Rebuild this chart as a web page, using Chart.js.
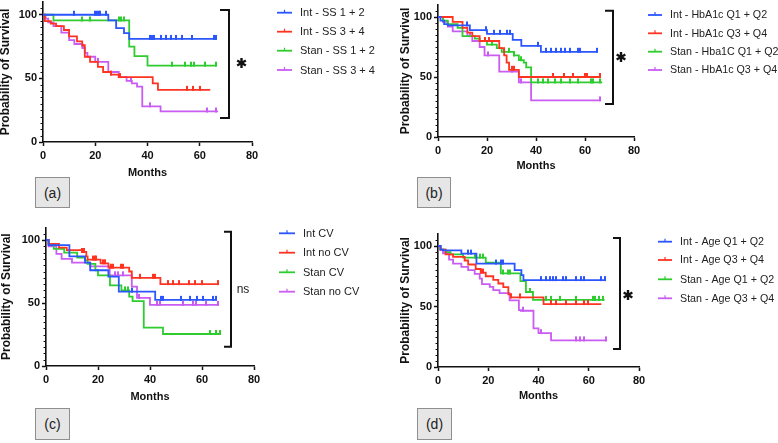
<!DOCTYPE html>
<html>
<head>
<meta charset="utf-8">
<script src="https://cdn.jsdelivr.net/npm/chart.js@4.4.1/dist/chart.umd.min.js"></script>
<style>
  html, body { margin: 0; padding: 0; background: #fff; width: 778px; height: 443px; overflow: hidden; position: relative; }
  canvas { position: absolute; }
  .tag {
    position: absolute; box-sizing: border-box; background: #e6e6e6; border: 1px solid #8f8f8f;
    font: 14px "Liberation Sans", Arial, sans-serif; color: #222;
    display: flex; align-items: center; justify-content: center;
  }
</style>
</head>
<body>
<script>
// axis ticks
const xTicks = [0, 20, 40, 60, 80];
const yTicks = [0, 50, 100];

// (a) symptom score
const aLabels = ["Int - SS 1 + 2", "Int - SS 3 + 4", "Stan - SS 1 + 2", "Stan - SS 3 + 4"];
const aIntSS12 = [[0, 100], [25, 95.5], [28, 89.5], [31, 85.6], [33, 81], [66.3, 81]];
const aIntSS12Cens = [12, 20, 20.7, 21.4, 22, 24, 41.1, 41.7, 42.3, 45, 47, 49, 51, 53.3, 57, 65.3, 66.3];
const aIntSS34 = [[0, 100], [0.7, 95], [3, 93], [5, 91], [8, 88], [10, 83], [13, 79], [15, 76], [16, 67], [18, 63], [21, 59], [23, 55], [26, 53], [29, 51], [42, 46], [44, 41], [64, 41]];
const aIntSS34Cens = [26, 29.5, 55, 57.4, 60];
const aStanSS12 = [[0, 100], [4, 95.5], [33, 75], [35, 67.5], [40, 60], [66.3, 60]];
const aStanSS12Cens = [15, 18, 29, 30, 31, 49.4, 54.5, 56.6, 57.7, 62, 66.3];
const aStanSS34 = [[0, 100], [1, 97], [2, 94], [4, 91], [7, 86], [10, 80], [12, 77], [15, 74], [16, 70], [17, 67], [20, 63], [25, 55], [29, 51], [32, 48], [34, 46], [36, 43.5], [38, 28], [45, 24], [67, 24]];
const aStanSS34Cens = [15.5, 21, 33.7, 41, 62.8, 66.3];

// (b) HbA1c
const bLabels = ["Int - HbA1c Q1 + Q2", "Int - HbA1c Q3 + Q4", "Stan - Hba1C Q1 + Q2", "Stan - HbA1c Q3 + Q4"];
const bIntHb12 = [[0, 100], [1, 97], [2.5, 94], [4, 93], [13, 89], [20, 86], [30.5, 81], [34, 76], [42, 71], [65, 71]];
const bIntHb12Cens = [12, 19.5, 23, 25.5, 28, 29.5, 41, 44, 46, 48, 50, 52, 54, 57, 58, 64.7];
const bIntHb34 = [[0, 100], [6, 96], [10, 91], [12, 87], [14, 84], [17, 80], [25, 74], [27, 68], [28, 62], [29, 56], [33, 50], [66, 50]];
const bIntHb34Cens = [19, 21, 30, 31, 47, 51.5, 55, 60, 61, 66];
const bStanHb12 = [[0, 100], [2, 97], [4, 94], [8, 91], [10, 84], [15, 82], [17, 80], [20, 77], [24, 74], [26, 71], [31, 68], [33, 64], [35, 62], [36, 58], [38, 45.5], [67, 45.5]];
const bStanHb12Cens = [22, 27, 29, 31, 34, 41, 43, 45, 47.7, 50.4, 53.8, 57, 62.6, 63.3, 66];
const bStanHb34 = [[0, 100], [2, 96], [4, 92], [6, 88], [12, 84], [14, 80], [17, 75], [19, 68], [25, 54.5], [33, 45.5], [38, 30.5], [66, 30.5]];
const bStanHb34Cens = [13, 20.5, 30, 34, 66];

// (c) cardiovascular
const cLabels = ["Int CV", "Int no CV", "Stan CV", "Stan no CV"];
const cIntCV = [[0, 100], [1, 96], [9, 87], [15, 82], [17, 76], [24, 71], [28, 59], [42, 52.5], [65, 52.5]];
const cIntCVCens = [33, 44.4, 45, 52, 55.3, 57.9, 60.4, 64.3, 65.3];
const cIntNoCV = [[0, 100], [1, 97], [5, 94], [8, 92], [14, 90.5], [15.5, 87], [16, 84.5], [21, 81.5], [24, 78], [32, 75], [33, 70], [44, 65], [66, 65]];
const cIntNoCVCens = [14, 14.7, 18, 18.8, 19.4, 21.8, 22.7, 25, 25.8, 29, 29.7, 36, 41.2, 41.8, 47, 49, 51, 55, 57.2, 60, 66];
const cStanCV = [[0, 100], [1, 97], [3, 93], [7, 90], [12, 86], [15, 84], [16, 81], [19, 76], [20, 72], [24.6, 64], [29, 60], [32, 55], [33.3, 51.5], [37.6, 30.4], [45, 25.4], [67, 25.4]];
const cStanCVCens = [30.5, 31.5, 63, 65.5, 67];
const cStanNoCV = [[0, 100], [1, 95], [4, 89], [6, 85], [10, 82], [17, 79], [24.5, 72], [33, 63], [35, 54], [40, 48.5], [66, 48.5]];
const cStanNoCVCens = [26.5, 27.5, 29.7, 35.8, 42.5, 43.7, 52.5, 56.6, 57.8, 61.7, 66];

// (d) age
const dLabels = ["Int - Age Q1 + Q2", "Int - Age Q3 + Q4", "Stan - Age Q1 + Q2", "Stan - Age Q3 + Q4"];
const dIntAge12 = [[0, 100], [1, 97], [2, 96.4], [9.3, 93.7], [15.3, 85.5], [30.5, 80], [33.2, 76], [34, 71.8], [66.3, 71.8]];
const dIntAge12Cens = [12, 13.3, 23.2, 25.2, 25.8, 41.1, 43.1, 44.4, 45.7, 47.1, 49.7, 51, 55, 57, 58.3, 65, 66.3];
const dIntAge34 = [[0, 100], [1, 97], [3, 93], [6, 91], [10.6, 88], [12, 84.7], [15, 81], [17, 78], [19, 75], [22, 72], [24, 69], [26, 66], [28, 60], [29, 57.5], [42, 52], [65, 52]];
const dIntAge34Cens = [17.2, 17.9, 29.2, 32.5, 45.1, 47.1, 51, 55, 58.3, 59.7];
const dStanAge12 = [[0, 100], [1, 97], [3, 95], [5, 93], [10, 90.4], [19, 86.3], [25, 77.3], [32.8, 71], [35, 62], [37.8, 55.5], [66.3, 55.5]];
const dStanAge12Cens = [14.6, 16.6, 17.9, 25.9, 27.8, 28.5, 36.5, 43.1, 45.1, 48.4, 55, 61.7, 62.3, 64, 65.6];
const dStanAge34 = [[0, 100], [1, 97], [2, 94], [4.4, 88.8], [6, 85.5], [9.3, 82.7], [12, 80], [14.6, 77], [16.6, 73], [17.5, 68.5], [20.6, 66.3], [22, 63.6], [24.5, 61], [28.5, 55], [32.2, 47], [33, 46.5], [38, 32], [40, 28], [45, 22], [67, 22]];
const dStanAge34Cens = [33.8, 40.8, 55, 56.4, 58.3, 67];

const BLUE = "#2a55ff", RED = "#ff3322", GREEN = "#2ecc2e", PURPLE = "#c95cf2";
const COLORS = [BLUE, RED, GREEN, PURPLE];
const FONT = "'Liberation Sans', Arial, sans-serif";

// value of a KM curve at time t
function survAt(steps, t) {
  let s = steps[0][1];
  for (const [x, y] of steps) if (x <= t) s = y;
  return s;
}

function tickMark(color) {
  const c = document.createElement("canvas");
  c.width = 2; c.height = 10;
  const g = c.getContext("2d");
  g.fillStyle = color;
  g.fillRect(0, 1, 2, 5);
  return c;
}

const decor = {
  id: "decor",
  afterDraw(chart, args, o) {
    const ctx = chart.ctx, y = chart.scales.y, area = chart.chartArea;
    ctx.save();
    // minor ticks on y axis
    ctx.strokeStyle = "#111"; ctx.lineWidth = 1;
    for (let v = 5; v <= 105; v += 5) {
      if (v % 50 === 0) continue;
      const py = Math.round(y.getPixelForValue(v)) + 0.5;
      ctx.beginPath(); ctx.moveTo(area.left - 2.5, py); ctx.lineTo(area.left, py); ctx.stroke();
    }
    ctx.translate(-o.ox, -o.oy);
    // bracket
    const b = o.bracket;
    ctx.strokeStyle = "#111"; ctx.lineWidth = 2;
    ctx.beginPath();
    ctx.moveTo(b.x0, b.top); ctx.lineTo(b.x, b.top); ctx.lineTo(b.x, b.bottom); ctx.lineTo(b.x0, b.bottom);
    ctx.stroke();
    if (b.mark === "*") {
      ctx.lineWidth = 2.4;
      for (const a of [90, 30, 150]) {
        const r = a * Math.PI / 180, dx = Math.cos(r) * 5, dy = Math.sin(r) * 5;
        ctx.beginPath(); ctx.moveTo(b.mx - dx, b.my - dy); ctx.lineTo(b.mx + dx, b.my + dy); ctx.stroke();
      }
    } else {
      ctx.fillStyle = "#222"; ctx.font = "12px " + FONT;
      ctx.textAlign = "center"; ctx.textBaseline = "middle";
      ctx.fillText(b.mark, b.mx, b.my);
    }
    // legend
    const lg = o.legend;
    ctx.font = lg.size + "px " + FONT; ctx.textAlign = "left"; ctx.textBaseline = "middle";
    chart.data.datasets.filter(d => d.isCurve).forEach((d, i) => {
      const ry = lg.rows[i];
      ctx.strokeStyle = d.borderColor; ctx.lineWidth = 1.8;
      ctx.beginPath(); ctx.moveTo(lg.x1, ry); ctx.lineTo(lg.x2, ry); ctx.stroke();
      const mx = (lg.x1 + lg.x2) / 2;
      ctx.lineWidth = 1.2;
      ctx.beginPath(); ctx.moveTo(mx, ry - 3); ctx.lineTo(mx, ry); ctx.stroke();
      ctx.fillStyle = "#222";
      ctx.fillText(d.label, lg.tx, ry + 0.5);
    });
    ctx.restore();
  }
};

function makePanel(p) {
  const left = p.cl, top = Math.floor(p.T) - 12;
  const xH = p.monthsY + 6.6 - p.B;
  const h = Math.ceil(p.B + xH + 10 - top);
  const w = p.w;
  const cv = document.createElement("canvas");
  cv.width = w; cv.height = h;
  cv.style.left = left + "px"; cv.style.top = top + "px";
  cv.style.width = w + "px"; cv.style.height = h + "px";
  document.body.appendChild(cv);

  const datasets = [];
  p.series.forEach((s, i) => {
    datasets.push({
      label: p.labels[i], isCurve: true,
      data: s.steps.map(([x, y]) => ({ x, y })),
      stepped: true, borderColor: COLORS[i], borderWidth: 1.8,
      pointRadius: 0, fill: false
    });
    datasets.push({
      label: p.labels[i] + " censored",
      data: s.cens.map(t => ({ x: t, y: survAt(s.steps, t) })),
      showLine: false, pointStyle: tickMark(COLORS[i]), pointRadius: 3,
      borderColor: COLORS[i], backgroundColor: COLORS[i]
    });
  });

  const tickFont = { family: FONT, size: 11, weight: "bold" };
  new Chart(cv, {
    type: "line",
    data: { datasets },
    plugins: [decor],
    options: {
      responsive: false,
      animation: false,
      devicePixelRatio: 1,
      layout: {
        padding: {
          left: 0,
          top: p.T - top,
          right: left + w - p.R,
          bottom: h - (p.B - top) - xH
        }
      },
      plugins: {
        legend: { display: false },
        tooltip: { enabled: false },
        decor: { ox: left, oy: top, bracket: p.bracket, legend: p.legend }
      },
      scales: {
        x: {
          type: "linear", min: 0, max: 80,
          afterBuildTicks: s => { s.ticks = xTicks.map(v => ({ value: v })); },
          afterFit: s => { s.height = xH; },
          grid: { drawOnChartArea: false, tickLength: 4, tickColor: "#111", tickWidth: 1.5 },
          border: { color: "#111", width: 1.6 },
          ticks: { color: "#111", font: tickFont, padding: 3, maxRotation: 0 },
          title: { display: true, text: "Months", color: "#111", font: { family: FONT, size: 11, weight: "bold" }, padding: 0 }
        },
        y: {
          min: 0, max: 110,
          afterBuildTicks: s => { s.ticks = yTicks.map(v => ({ value: v })); },
          afterFit: s => { s.width = p.L - left; },
          grid: { drawOnChartArea: false, tickLength: 4, tickColor: "#111", tickWidth: 1.5 },
          border: { color: "#111", width: 1.6 },
          ticks: { color: "#111", font: tickFont, padding: 2 },
          title: { display: true, text: "Probability of Survival", color: "#111", font: { family: FONT, size: 12, weight: "bold" }, padding: 0 }
        }
      }
    }
  });
}

makePanel({
  cl: -2, w: 389, L: 43, R: 252, T: 2, B: 142, monthsY: 172.7,
  labels: aLabels,
  series: [
    { steps: aIntSS12, cens: aIntSS12Cens }, { steps: aIntSS34, cens: aIntSS34Cens },
    { steps: aStanSS12, cens: aStanSS12Cens }, { steps: aStanSS34, cens: aStanSS34Cens }
  ],
  bracket: { x: 229, x0: 220, top: 10, bottom: 118, mark: "*", mx: 241.5, my: 63 },
  legend: { x1: 277, x2: 292, tx: 300, rows: [12.7, 31.7, 50.7, 70], size: 11 }
});

makePanel({
  cl: 398, w: 380, L: 438, R: 634, T: 5, B: 137, monthsY: 165.7,
  labels: bLabels,
  series: [
    { steps: bIntHb12, cens: bIntHb12Cens }, { steps: bIntHb34, cens: bIntHb34Cens },
    { steps: bStanHb12, cens: bStanHb12Cens }, { steps: bStanHb34, cens: bStanHb34Cens }
  ],
  bracket: { x: 613, x0: 605, top: 10.7, bottom: 104, mark: "*", mx: 621, my: 57 },
  legend: { x1: 648, x2: 662, tx: 670, rows: [15, 33.3, 51.7, 70], size: 10.7 }
});

makePanel({
  cl: -1, w: 389, L: 46, R: 254, T: 227.4, B: 366, monthsY: 397,
  labels: cLabels,
  series: [
    { steps: cIntCV, cens: cIntCVCens }, { steps: cIntNoCV, cens: cIntNoCVCens },
    { steps: cStanCV, cens: cStanCVCens }, { steps: cStanNoCV, cens: cStanNoCVCens }
  ],
  bracket: { x: 231, x0: 224, top: 231.7, bottom: 346.7, mark: "ns", mx: 243, my: 290 },
  legend: { x1: 279, x2: 295, tx: 303, rows: [233.3, 252.7, 272.3, 291.7], size: 11 }
});

makePanel({
  cl: 398, w: 380, L: 438, R: 639, T: 233.9, B: 367, monthsY: 396,
  labels: dLabels,
  series: [
    { steps: dIntAge12, cens: dIntAge12Cens }, { steps: dIntAge34, cens: dIntAge34Cens },
    { steps: dStanAge12, cens: dStanAge12Cens }, { steps: dStanAge34, cens: dStanAge34Cens }
  ],
  bracket: { x: 620, x0: 613, top: 238, bottom: 349, mark: "*", mx: 628, my: 295 },
  legend: { x1: 658, x2: 672, tx: 680, rows: [241.7, 260, 279.3, 298.3], size: 10.7 }
});

// panel tags
[["(a)", 35, 177, 35, 31], ["(b)", 417, 177, 34, 31], ["(c)", 35, 408, 35, 32], ["(d)", 417, 408, 35, 32]]
  .forEach(([t, x, y, w, h]) => {
    const d = document.createElement("div");
    d.className = "tag"; d.textContent = t;
    Object.assign(d.style, { left: x + "px", top: y + "px", width: w + "px", height: h + "px" });
    document.body.appendChild(d);
  });
</script>
</body>
</html>
